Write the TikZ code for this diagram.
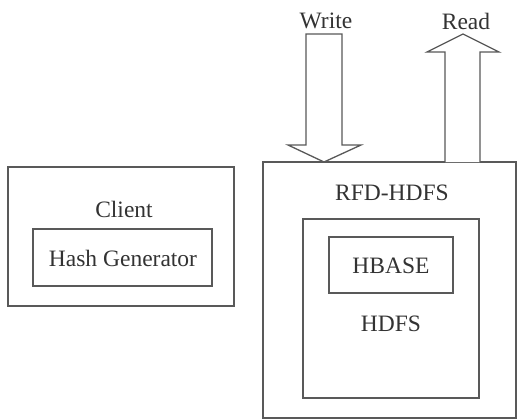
\documentclass[tikz,border=0pt]{standalone}
\usepackage{fontspec}
\setmainfont{Liberation Serif}
\begin{document}
\begin{tikzpicture}[x=1pt,y=-1pt,
  box/.style={draw=black!65,line width=1.3pt},
  lbl/.style={font=\fontsize{23.5}{26}\selectfont,text=black!80,inner sep=0pt},
  blockarrow/.style={draw=black!65,line width=1.3pt,fill=white,line join=miter}]
\useasboundingbox[fill=white] (0,0) rectangle (517,420);
% client
\draw[box] (8,167) rectangle (234,306);
\node[lbl] (client) at (124,209) {Client};
\draw[box] (33,229) rectangle (212,286);
\node[lbl] (hash) at (123,258) {Hash Generator};
% RFD-HDFS
\draw[box] (263,162) rectangle (516,418);
\node[lbl] (rfd) at (392,193) {RFD-HDFS};
\draw[box] (303,219) rectangle (479,398);
\draw[box] (329,237) rectangle (453,293);
\node[lbl] (hbase) at (391,266) {HBASE};
\node[lbl] (hdfs) at (391,324) {HDFS};
% arrows
\coordinate (wtip) at (324,162);
\coordinate (rbase) at (462.5,162);
\draw[blockarrow] (306,34) -- (342,34) -- (342,145) -- (361,145) -- (wtip) -- (288,145) -- (306,145) -- cycle;
\draw[blockarrow] (445,162) -- (445,52) -- (427,52) -- (463,34) -- (499,52) -- (480,52) -- (480,162);
\node[lbl] (write) at (326,21) {Write};
\node[lbl] (read) at (466,21) {Read};
\end{tikzpicture}
\end{document}
